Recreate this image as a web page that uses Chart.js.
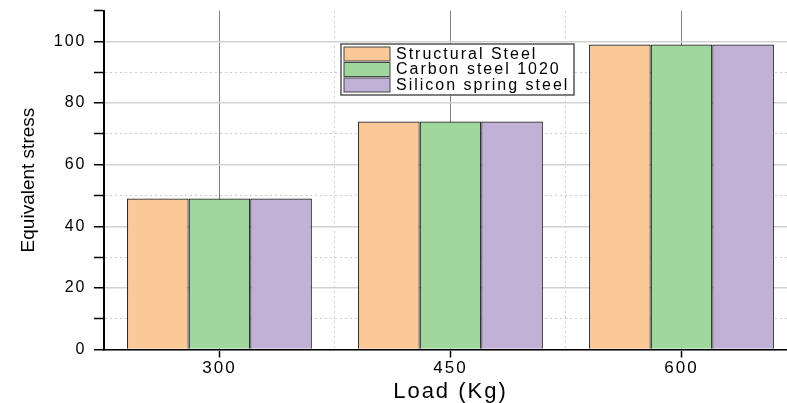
<!DOCTYPE html>
<html>
<head>
<meta charset="utf-8">
<script src="https://cdn.jsdelivr.net/npm/chart.js@4.4.0/dist/chart.umd.min.js"></script>
<style>
  html, body { margin: 0; padding: 0; background: #fff; overflow: hidden; }
  #wrap { width: 805px; height: 403px; }
</style>
</head>
<body>
<div id="wrap"><canvas id="stressChart" width="805" height="403"></canvas></div>
<script>
// data
const loads = ['300', '450', '600']
const structuralSteel = [49, 74, 99]
const carbonSteel1020 = [49, 74, 99]
const siliconSpringSteel = [49, 74, 99]
const seriesNames = ['Structural Steel', 'Carbon steel 1020', 'Silicon spring steel']
const yLabels = [0, 20, 40, 60, 80, 100]
const yMax = 110

const colors = ['#fbc898', '#9fd79c', '#c2b1d6']
const sans = '"Liberation Sans", Arial, sans-serif'

// origin style text is spread out, except the y title which is tight.
// y title is drawn in the grid layer (before datasets) -> no spacing,
// tick labels / x title are put on z 1 (after datasets) -> spacing
const spacing = {
    id: 'spacing',
    beforeUpdate(chart) { chart.ctx.letterSpacing = '2px' },
    beforeDraw(chart) { chart.ctx.letterSpacing = '0px' },
    afterDatasetsDraw(chart) { chart.ctx.letterSpacing = '2px' }
}

// boxed legend inside the plot, like the original
const boxLegend = {
    id: 'boxLegend',
    afterDraw(chart) {
        const ctx = chart.ctx
        const x = 341, y = 44, w = 233, h = 51
        ctx.save()
        ctx.fillStyle = '#fff'
        ctx.fillRect(x, y, w, h)
        ctx.strokeStyle = '#555'
        ctx.lineWidth = 1.5
        ctx.strokeRect(x, y, w, h)
        chart.data.datasets.forEach((ds, i) => {
            const ry = y + 3 + i * 15.5
            ctx.fillStyle = ds.backgroundColor
            ctx.fillRect(x + 3, ry, 46, 14)
            ctx.strokeStyle = '#444'
            ctx.lineWidth = 1
            ctx.strokeRect(x + 3, ry, 46, 14)
            ctx.fillStyle = '#000'
            ctx.font = '16px ' + sans
            ctx.textBaseline = 'middle'
            ctx.textAlign = 'left'
            ctx.fillText(ds.label, x + 55, ry + 7.5)
        })
        ctx.restore()
    }
}

const isMajor = (c) => c.tick && c.tick.value % 20 === 0

const ctx = document.getElementById('stressChart').getContext('2d')
const myChart = new Chart(ctx, {
    type: 'bar',
    data: {
        labels: loads,
        datasets: [
            { label: seriesNames[0], data: structuralSteel, backgroundColor: colors[0] },
            { label: seriesNames[1], data: carbonSteel1020, backgroundColor: colors[1] },
            { label: seriesNames[2], data: siliconSpringSteel, backgroundColor: colors[2] }
        ].map((d) => ({ ...d, borderColor: '#1a1a1a', borderWidth: 1.2, categoryPercentage: 0.8, barPercentage: 1 }))
    },
    options: {
        responsive: false,
        animation: false,
        devicePixelRatio: 1,
        layout: { padding: { left: 13, right: 8, top: 0, bottom: 0 } },
        plugins: { legend: { display: false }, tooltip: { enabled: false } },
        scales: {
            x: {
                offset: true,
                grid: { offset: false, color: '#808080', lineWidth: 1, tickLength: 8, tickColor: '#000', tickWidth: 1.5 },
                border: { color: '#000', width: 1.5, z: 1 },
                ticks: { color: '#000', font: { size: 17, family: sans }, padding: 1, z: 1 }
            },
            // only carries the x title so it gets drawn late
            xTitle: {
                type: 'category',
                labels: loads,
                position: 'bottom',
                offset: true,
                grid: { display: false, drawTicks: false, z: 1 },
                border: { display: false },
                ticks: { display: false },
                title: { display: true, text: 'Load (Kg)', color: '#000', font: { size: 22, family: sans, lineHeight: 1.05 }, padding: { top: 0, bottom: 0 } }
            },
            x2: {
                type: 'category',
                labels: loads,
                position: 'top',
                offset: true,
                grid: { offset: true, color: '#d0d0d0', drawTicks: false },
                border: { display: false, dash: [2, 3] },
                ticks: { display: false }
            },
            y: {
                min: 0,
                max: yMax,
                ticks: {
                    stepSize: 10,
                    autoSkip: false,
                    color: '#000',
                    font: { size: 16, family: sans },
                    padding: 1,
                    z: 1,
                    // trailing space keeps the gap to the axis (ticks.padding would also pad the top)
                    callback: (v) => yLabels.includes(v) ? v + ' ' : ''
                },
                grid: {
                    color: (c) => c.tick && c.tick.value >= yMax ? 'rgba(0,0,0,0)' : (isMajor(c) ? '#d2d2d2' : '#cccccc'),
                    lineWidth: (c) => isMajor(c) ? 1.5 : 1,
                    tickColor: '#000',
                    tickLength: 10,
                    tickWidth: 1.5
                },
                border: { color: '#000', width: 2, z: 1, dash: (c) => (c.tick && !isMajor(c)) ? [2, 3] : [] },
                title: { display: true, text: 'Equivalent stress', color: '#000', font: { size: 19, family: sans }, padding: { top: 4, bottom: 13 } }
            }
        }
    },
    plugins: [spacing, boxLegend]
})
</script>
</body>
</html>
